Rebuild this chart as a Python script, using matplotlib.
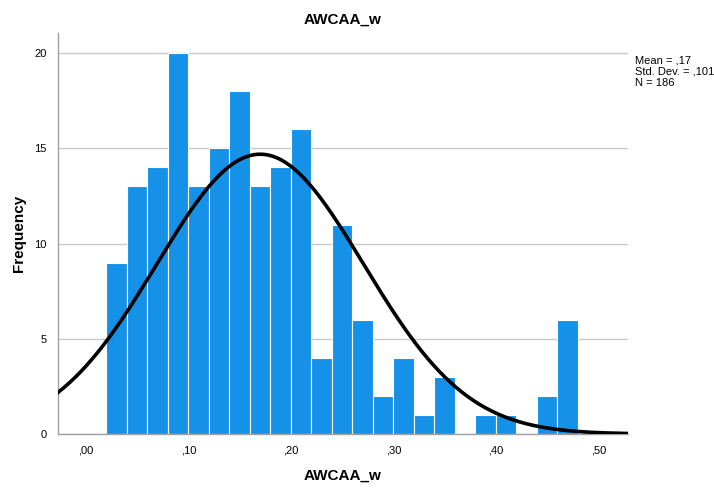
import numpy as np
import matplotlib.pyplot as plt

plt.rcParams['font.family'] = ['Liberation Sans', 'DejaVu Sans']

# bins of width 0.02, starting at 0.02
bin_left = [0.02, 0.04, 0.06, 0.08, 0.10, 0.12, 0.14, 0.16, 0.18, 0.20, 0.22, 0.24,
            0.26, 0.28, 0.30, 0.32, 0.34, 0.36, 0.38, 0.40, 0.42, 0.44, 0.46]
counts = [9, 13, 14, 20, 13, 15, 18, 13, 14, 16, 4, 11,
          6, 2, 4, 1, 3, 0, 1, 1, 0, 2, 6]
bin_width = 0.02

mean = 0.17
std = 0.101
n = 186

x_ticks = [0.0, 0.1, 0.2, 0.3, 0.4, 0.5]
x_tick_labels = [',00', ',10', ',20', ',30', ',40', ',50']
y_ticks = [0, 5, 10, 15, 20]

fig = plt.figure(figsize=(7.14, 4.88), dpi=100)
ax = fig.add_axes([0.0812, 0.1107, 0.7984, 0.8213])

ax.bar(bin_left, counts, width=bin_width, align='edge', color='#1591E8',
       edgecolor='white', linewidth=0.8, zorder=2)

# fitted normal curve
xlim = (-0.0273, 0.529)
xs = np.linspace(xlim[0], xlim[1], 400)
ys = n * bin_width / (std * np.sqrt(2 * np.pi)) * np.exp(-0.5 * ((xs - mean) / std) ** 2)
ax.plot(xs, ys, color='black', linewidth=2.6, zorder=3)

ax.set_xlim(xlim)
ax.set_ylim(0, 21.05)
ax.set_xticks(x_ticks)
ax.set_xticklabels(x_tick_labels)
ax.set_yticks(y_ticks)
ax.tick_params(length=0, labelsize=8)
ax.tick_params(axis='x', pad=8)
ax.tick_params(axis='y', pad=8)

ax.yaxis.grid(True, color='#C8C8C8', linewidth=1.0, zorder=0)
ax.set_axisbelow(True)
for s in ['top', 'right']:
    ax.spines[s].set_visible(False)
for s in ['left', 'bottom']:
    ax.spines[s].set_color('#A0A0A0')
    ax.spines[s].set_linewidth(1.0)

ax.set_title('AWCAA_w', fontsize=11, fontweight='bold', pad=7)
ax.set_xlabel('AWCAA_w', fontsize=11, fontweight='bold', labelpad=10)
ax.set_ylabel('Frequency', fontsize=11, fontweight='bold', labelpad=6)

fig.text(0.889, 0.887, 'Mean = ,17\nStd. Dev. = ,101\nN = 186', fontsize=8,
         va='top', ha='left', linespacing=1.15)

fig.savefig('out.png', dpi=100)
